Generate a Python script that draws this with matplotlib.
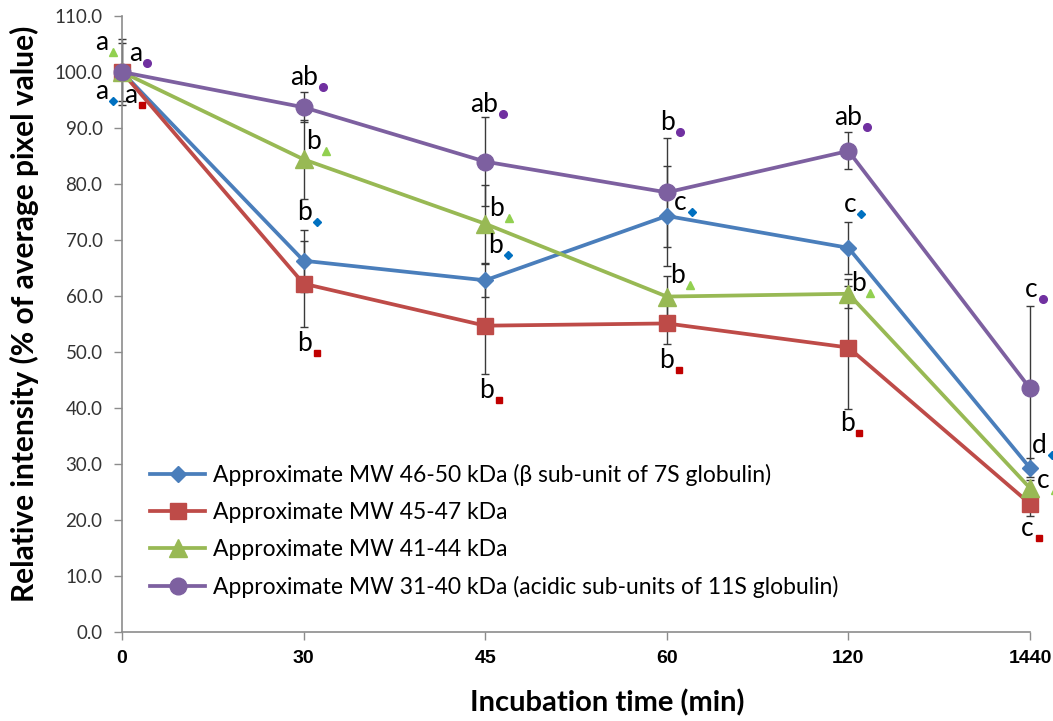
import matplotlib
matplotlib.use("Agg")
import matplotlib.pyplot as plt
from matplotlib.transforms import ScaledTranslation

# ---- data -------------------------------------------------------------
times = ["0", "30", "45", "60", "120", "1440"]

series_names = [
    "Approximate MW 46-50 kDa (\u03b2 sub-unit of 7S globulin)",
    "Approximate MW 45-47 kDa",
    "Approximate MW 41-44 kDa",
    "Approximate MW 31-40 kDa (acidic sub-units of 11S globulin)",
]

mw_46_50 = [100.0, 66.3, 62.8, 74.3, 68.6, 29.3]
mw_45_47 = [100.0, 62.2, 54.7, 55.1, 50.8, 22.9]
mw_41_44 = [100.0, 84.4, 72.9, 59.9, 60.4, 25.7]
mw_31_40 = [100.0, 93.7, 84.0, 78.5, 85.9, 43.5]

err_46_50 = [0.0, 5.5, 3.0, 8.9, 4.6, 1.7]
err_45_47 = [0.0, 7.7, 8.6, 3.6, 10.9, 2.1]
err_41_44 = [5.9, 7.0, 7.0, 3.6, 2.6, 1.5]
err_31_40 = [5.2, 2.7, 7.9, 9.7, 3.3, 14.7]

letters_46_50 = ["a", "b", "b", "c", "c", "d"]
letters_45_47 = ["a", "b", "b", "b", "b", "c"]
letters_41_44 = ["a", "b", "b", "b", "b", "c"]
letters_31_40 = ["a", "ab", "ab", "b", "ab", "c"]

# ---- styling ----------------------------------------------------------
line_colors = ["#4A7EBB", "#BE4B48", "#98B954", "#7D60A0"]
tag_colors = ["#0070C0", "#C00000", "#92D050", "#7030A0"]
markers = ["D", "s", "^", "o"]
marker_sizes = [8.0, 11.0, 12.5, 12.0]
tag_marker_sizes = [4.5, 5.0, 6.0, 5.5]

# pixel offsets of the significance tags relative to each point
tag_offsets = [
    [(-9, -29), (13, 39), (23, 25), (25, 4), (13, 34), (22, 13)],
    [(20, -33), (13, -69), (14, -74), (12, -47), (11, -85), (9, -34)],
    [(-9, 20), (22, 8), (24, 6), (23, 12), (22, 1), (25, -2)],
    [(25, 9), (19, 20), (18, 48), (13, 60), (19, 24), (13, 89)],
]

values = [mw_46_50, mw_45_47, mw_41_44, mw_31_40]
errors = [err_46_50, err_45_47, err_41_44, err_31_40]
letters = [letters_46_50, letters_45_47, letters_41_44, letters_31_40]

W, H = 1053, 721
fig = plt.figure(figsize=(W / 100, H / 100), dpi=100)
ax = fig.add_axes([122 / W, 1 - 632 / H, (1030 - 122) / W, (632 - 16) / H])

x = list(range(len(times)))
sans = ["Lato", "DejaVu Sans"]

for k in range(4):
    ax.errorbar(x, values[k], yerr=errors[k], fmt="none", ecolor="#3a3a3a",
                elinewidth=1.0, capsize=3.2, capthick=1.0, zorder=2,
                clip_on=False)

handles = []
for k in range(4):
    (ln,) = ax.plot(x, values[k], color=line_colors[k], lw=2.7,
                    marker=markers[k], ms=marker_sizes[k],
                    markerfacecolor=line_colors[k], markeredgecolor=line_colors[k],
                    zorder=3 + k * 0.1, clip_on=False, label=series_names[k])
    handles.append(ln)

# significance letters, each followed by a small coloured series symbol
for k in range(4):
    for i in range(len(times)):
        dx, dy = tag_offsets[k][i]
        shift = ScaledTranslation(dx / 100, dy / 100, fig.dpi_scale_trans)
        ax.plot([x[i]], [values[k][i]], linestyle="none", marker=markers[k],
                ms=tag_marker_sizes[k], color=tag_colors[k], clip_on=False,
                zorder=6, transform=ax.transData + shift)
        ax.annotate(letters[k][i], xy=(x[i], values[k][i]),
                    xytext=(dx - 5, dy + 2), textcoords="offset pixels",
                    ha="right", va="baseline", fontsize=19,
                    family=sans, color="black", zorder=6,
                    annotation_clip=False)

# ---- axes -------------------------------------------------------------
ax.set_xlim(0, 5)
ax.set_ylim(0, 110)
ax.set_xticks(x)
ax.set_xticklabels(times, fontsize=14, fontweight="bold",
                   family=["Liberation Sans", "DejaVu Sans"])
ax.set_yticks(range(0, 111, 10))
ax.set_yticklabels([f"{v:.1f}" for v in range(0, 111, 10)], fontsize=13.5,
                   family=sans, color="#333333")
for s in ["top", "right"]:
    ax.spines[s].set_visible(False)
for s in ["left", "bottom"]:
    ax.spines[s].set_color("#8c8c8c")
    ax.spines[s].set_linewidth(1.2)
ax.tick_params(axis="y", direction="out", length=6, width=1.0,
               color="#8c8c8c", pad=8)
ax.tick_params(axis="x", direction="out", length=6, width=1.0,
               color="#8c8c8c", pad=7)

fig.text(24 / W, 1 - 314 / H, "Relative intensity (% of average pixel value)",
         rotation=90, ha="center", va="center", fontsize=21.5,
         fontweight="bold", family=sans)
fig.text(607 / W, 1 - 703 / H, "Incubation time (min)", ha="center",
         va="center", fontsize=21, fontweight="bold", family=sans)

leg = ax.legend(handles=handles, loc="upper left",
                bbox_to_anchor=(150 / W, 1 - 464 / H),
                bbox_transform=fig.transFigure, frameon=False,
                prop={"family": sans, "size": 16.5},
                handlelength=2.4, handletextpad=0.35, labelspacing=0.7,
                borderpad=0, borderaxespad=0)

fig.savefig("out.png", dpi=100, facecolor="white")
